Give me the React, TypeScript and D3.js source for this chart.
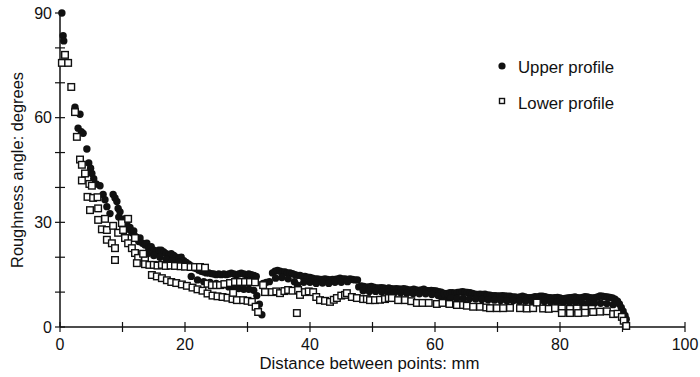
import React from "react";
import * as d3 from "d3";

const upperProfile: [number, number][] = [
  [0.3, 90], [0.5, 83.5], [0.6, 82],
  [2.4, 63], [2.9, 57], [3.2, 61], [3.4, 56], [3.7, 55.5], [4.3, 51], [4.6, 47], [4.9, 45.5], [5.1, 44], [5.4, 42.5], [5.8, 41], [6.4, 40.5], [6.9, 38], [7.2, 36.5], [7.5, 34.5], [8.0, 32.5], [8.5, 38], [8.8, 37], [9.1, 36], [9.3, 34], [9.4, 31.5], [9.6, 33], [9.9, 30.5], [10.2, 31], [10.5, 29], [10.7, 30], [11.0, 28], [11.2, 28.5], [11.5, 27], [11.8, 27.5], [12.0, 26], [12.3, 25.5], [12.6, 24.5], [12.8, 25.5], [13.2, 24], [13.6, 23.5], [13.9, 24], [14.2, 22.5], [14.6, 23], [15.0, 22], [15.4, 21.5], [15.8, 22], [16.2, 22], [16.6, 21.5], [17.0, 21], [17.4, 20.5], [17.8, 21], [18.2, 20.5], [18.6, 20], [19.0, 19.5], [19.4, 20], [19.8, 19],
  [14, 21], [15, 20.5], [16, 20], [17, 19.5], [18, 19], [19, 18.5],
  [20.2, 18.5], [20.6, 18], [21.0, 17.5], [21.4, 17], [21.8, 16.8], [22.2, 16.3], [22.6, 16], [23.0, 15.8], [23.4, 15.5], [23.8, 15.5], [24.2, 15.3], [24.6, 15.2], [25.0, 15], [25.4, 15.2], [25.8, 15], [26.2, 15.2], [26.6, 15], [27.0, 15.2], [27.4, 15.4], [27.8, 15.2], [28.2, 15], [28.6, 15.2], [29.0, 15.4], [29.4, 15.2], [29.8, 15], [30.2, 15.2], [30.6, 15], [31.0, 14.8], [31.4, 14.5],
  [21, 14.5], [22, 13.5], [23, 13], [24, 12.8], [25, 12.5], [26, 12], [27, 11.5], [27.8, 11], [28.6, 11], [29.4, 10.8], [30.2, 10.8], [31.0, 10.5], [31.5, 9], [31.9, 6.5], [32.3, 3.5],
  [32.5, 12.5], [33, 12.8], [33.5, 13], [34, 15.5], [34.4, 16], [34.8, 16.2], [35.2, 16], [35.6, 15.8], [36, 15.8], [36.4, 15.5], [36.8, 15.5], [37.2, 15.3], [37.6, 15], [38, 14.8], [38.4, 14.8], [38.8, 14.5], [39.2, 14.5], [39.6, 14.3], [40, 14.2], [40.4, 14], [40.8, 13.8], [41.2, 13.8], [41.6, 13.6], [42, 13.6], [42.4, 13.8], [42.8, 13.6], [43.2, 13.5], [43.6, 13.6], [44, 13.6], [44.4, 13.8], [44.8, 14], [45.2, 13.8], [45.6, 13.8], [46, 13.6], [46.4, 13.8], [46.8, 13.6], [47.2, 13.5], [47.6, 13.5],
  [34.5, 14], [35.5, 14.2], [36.5, 13.8], [37.5, 13], [38, 12], [39, 12.8], [40, 12.8], [41, 12.5], [42, 12.6], [43, 12.5], [44, 12.8], [45, 12.8], [46, 13],
  [47.8, 11.5], [48.2, 11.8], [48.6, 11.6], [49, 11.4], [49.4, 11.5], [49.8, 11.6], [50.2, 11.4], [50.6, 11.2], [51, 11.2], [51.4, 11.3], [51.8, 11.2], [52.2, 11], [52.6, 11.2], [53, 11], [53.4, 10.9], [53.8, 11], [54.2, 10.9], [54.6, 10.8], [55, 11], [55.4, 10.8], [55.8, 10.6], [56.2, 10.6], [56.6, 10.8], [57, 10.6], [57.4, 10.5], [57.8, 10.6], [58.2, 10.8], [58.6, 10.5], [59, 10.4], [59.4, 10.5], [59.8, 10.4], [60.2, 10.3], [60.6, 10.1], [61, 10],
  [48.5, 10.4], [49.5, 10.2], [50.5, 10.2], [51.5, 10], [52.5, 10], [53.5, 9.8], [54.5, 9.8], [55.5, 9.7], [56.5, 9.6], [57.5, 9.5], [58.5, 9.5], [59.5, 9.3], [60.5, 9], [61.2, 8.6], [61.6, 8.3], [62, 8],
  [61.5, 9.6], [62, 9.6], [62.4, 9.8], [62.8, 9.8], [63.2, 9.7], [63.6, 9.9], [64, 10], [64.4, 10.1], [64.8, 10], [65.2, 9.9], [65.6, 9.8], [66, 9.6], [66.4, 9.4], [66.8, 9.3], [67.2, 9.4], [67.6, 9.3], [68, 9.4], [68.4, 9.2], [68.8, 9.1], [69.2, 9], [69.6, 9], [70, 8.9], [70.4, 8.9], [70.8, 9], [71.2, 8.9], [71.6, 8.8], [72, 8.8], [72.4, 8.6], [72.8, 8.6], [73.2, 8.5], [73.6, 8.6], [74, 8.8], [74.4, 8.6], [74.8, 8.4], [75.2, 8.4], [75.6, 8.5], [76, 8.7], [76.4, 8.6], [76.8, 8.8], [77.2, 8.8], [77.6, 8.7], [78, 8.5], [78.4, 8.4], [78.8, 8.3], [79.2, 8.4], [79.6, 8.5], [80, 8.3], [80.4, 8.1], [80.8, 8.2], [81.2, 8.3], [81.6, 8.4], [82, 8.5], [82.4, 8.6], [82.8, 8.4], [83.2, 8.3], [83.6, 8.5], [84, 8.7], [84.4, 8.6], [84.8, 8.4], [85.2, 8.3], [85.6, 8.4], [86, 8.6], [86.4, 8.9], [86.8, 8.8], [87.2, 8.7], [87.6, 8.6], [88, 8.5], [88.4, 8.3], [88.8, 8], [89.2, 7.4], [89.5, 6.6], [89.8, 5.6], [90.1, 4.5], [90.4, 3.3], [90.6, 2.2],
  [62.5, 8.3], [63.5, 8.2], [64.5, 8.2], [65.5, 8.1], [66.5, 8], [67.5, 7.9], [68.5, 7.8], [69.5, 7.7], [70.5, 7.6], [71.5, 7.5], [72.5, 7.5], [73.5, 7.4], [74.5, 7.4], [75.5, 7.3], [76.5, 7.3], [77.5, 7.3], [78.5, 7.2], [79.5, 7.1], [80.5, 7], [81.5, 7], [82.5, 7], [83.5, 7], [84.5, 6.9], [85.5, 6.8], [86.5, 6.8], [87.5, 6.7], [88.5, 6.4],
];

const lowerProfile: [number, number][] = [
  [0.3, 75.7], [0.8, 78], [1.3, 75.7], [1.8, 68.8], [2.4, 61.6], [2.7, 54.5], [3.2, 48], [3.5, 46.5], [3.5, 42], [4.0, 44], [4.4, 37.3], [4.7, 41], [4.8, 33.5], [5.1, 40.5], [5.3, 37], [6.0, 37.2], [6.1, 34], [6.1, 30.7], [6.7, 28], [7.2, 31], [7.5, 27.8], [7.5, 25], [8.3, 24], [8.5, 29], [8.8, 22.6], [8.8, 19.2], [9.3, 27], [9.9, 29.8], [10.1, 27.8], [10.4, 25.5], [10.9, 31], [10.9, 24], [11.5, 22.6], [12.0, 21.2], [12.0, 25.5], [12.5, 19.8], [12.3, 18.3], [13.6, 19.2], [13.3, 21],
  [13.6, 18], [14.3, 17.8], [15.0, 17.8], [15.6, 17.6], [16.3, 17.8], [16.9, 17.5], [17.7, 17.6], [18.4, 17.5], [19.3, 17.4], [20.0, 17.3], [20.9, 17.2], [21.6, 17.2], [22.4, 17.2], [23.2, 17],
  [14.7, 14.9], [15.5, 14.5], [16.3, 14], [17.1, 13.4], [17.8, 12.9], [18.6, 12.6], [19.5, 12.2], [20.3, 11.8], [21.2, 11.3], [22.0, 10.8], [22.8, 10.4], [23.6, 9.6], [24.4, 9], [25.2, 8.8], [26, 8.6], [26.8, 8.4], [27.6, 8.0], [28.3, 7.7], [29.3, 7.7], [30.0, 7.5], [30.7, 7.2], [31.3, 5.8], [31.7, 4.3],
  [23.6, 12.4], [24.3, 12], [25, 12], [25.6, 12], [26.3, 12.3], [27.2, 12.6], [28, 12.9], [28.8, 12.9], [29.6, 12.9], [30.4, 12.9], [31.2, 12.8], [27.7, 9.8],
  [32.5, 12], [32.8, 10], [33.9, 10], [34.6, 10.2], [35.2, 9.7], [35.9, 10.3], [36.5, 10.6], [37.2, 10.4], [38.1, 10.6], [38.4, 9.2], [39.2, 10], [39.8, 10.2], [40.5, 10], [41.0, 8.6], [41.6, 7.7], [42.4, 7.5], [43.2, 7.2], [43.8, 7.8], [44.3, 8.3], [45.0, 9.0], [45.6, 9.2], [45.9, 9.7], [46.7, 8.6], [47.5, 8.3], [48.5, 8], [49.1, 8], [49.6, 7.7], [50.4, 7.7], [51.2, 7.8], [52, 8], [52.6, 8.3], [53.1, 8.3], [54.1, 7.7], [55.2, 7.7], [56.2, 7.4], [57.1, 6.9], [58, 6.9], [59, 6.9], [60.3, 6.6], [61.2, 6.9], [62.3, 6.6], [63.5, 6.3], [64.5, 6.3], [65.1, 6.1], [66.1, 5.8], [67.2, 5.8], [68.2, 5.6], [68.8, 5.4], [69.9, 5.4], [70.9, 5.4], [72, 5.5], [73.6, 5.4], [74.7, 5.3], [75.7, 5.4], [76.3, 7], [77.3, 5.3], [78.2, 5.2], [79.2, 5.4], [80.3, 5.3], [81.6, 5.2], [82.7, 5.3], [84, 5.2], [85.1, 5.2],
  [80.3, 4], [81.6, 4], [82.9, 4], [84, 4.1], [85.3, 4.3], [86.4, 4.4], [87.5, 4.5], [88.5, 3.7], [89.2, 3.8], [89.9, 2.9], [90.2, 1.8], [90.6, 0.3],
  [37.9, 4],
];

const xTicks = [0, 10, 20, 30, 40, 50, 60, 70, 80, 90, 100];
const xTickLabels = [0, 20, 40, 60, 80, 100];
const yTicks = [0, 10, 20, 30, 40, 50, 60, 70, 80, 90];
const yTickLabels = [0, 30, 60, 90];
const legendLabels = ["Upper profile", "Lower profile"];
const xTitle = "Distance between points: mm";
const yTitle = "Roughness angle: degrees";

export default function App() {
  const x = d3.scaleLinear().domain([0, 100]).range([60, 685]);
  const y = d3.scaleLinear().domain([0, 90]).range([327, 13]);
  const font = "'Liberation Sans', Arial, Helvetica, sans-serif";
  const sq = 6.6;
  return (
    <svg width={700} height={377} style={{ position: "absolute", left: 0, top: 0, background: "#fff" }}
      fontFamily={font}>
      <rect x={0} y={0} width={700} height={377} fill="#fff" />
      <line x1={x(0)} x2={x(100)} y1={y(0)} y2={y(0)} stroke="#111" strokeWidth={1.5} />
      <line x1={x(0)} x2={x(0)} y1={y(0)} y2={y(90)} stroke="#111" strokeWidth={1.5} />
      {xTicks.map((t) => (
        <line key={"xt" + t} x1={x(t)} x2={x(t)} y1={y(0) - 5} y2={y(0) + 5} stroke="#111" strokeWidth={1.2} />
      ))}
      {yTicks.map((t) => (
        <line key={"yt" + t} x1={x(0) - 5} x2={x(0) + 5} y1={y(t)} y2={y(t)} stroke="#111" strokeWidth={1.2} />
      ))}
      {xTickLabels.map((t) => (
        <text key={"xl" + t} x={x(t)} y={350} textAnchor="middle" fontSize={16} fill="#111">{t}</text>
      ))}
      {yTickLabels.map((t) => (
        <text key={"yl" + t} x={52} y={y(t) + 5.5} textAnchor="end" fontSize={16} fill="#111">{t}</text>
      ))}
      <text x={(x(0) + x(100)) / 2 - 3} y={369} textAnchor="middle" fontSize={16.8} fill="#111">{xTitle}</text>
      <text transform={`translate(23, 170) rotate(-90)`} textAnchor="middle" fontSize={16.4} fill="#111">{yTitle}</text>
      {upperProfile.map((d, i) => (
        <circle key={"u" + i} cx={x(d[0])} cy={y(d[1])} r={3.7} fill="#111" />
      ))}
      {lowerProfile.map((d, i) => (
        <rect key={"l" + i} x={x(d[0]) - sq / 2} y={y(d[1]) - sq / 2} width={sq} height={sq}
          fill="#fff" stroke="#111" strokeWidth={1.4} />
      ))}
      <circle cx={502} cy={66} r={3.6} fill="#111" />
      <text x={518} y={73} fontSize={16.8} fill="#111">{legendLabels[0]}</text>
      <rect x={499.5} y={98.5} width={5} height={5} fill="#fff" stroke="#111" strokeWidth={1.4} />
      <text x={518} y={109} fontSize={16.8} fill="#111">{legendLabels[1]}</text>
    </svg>
  );
}
